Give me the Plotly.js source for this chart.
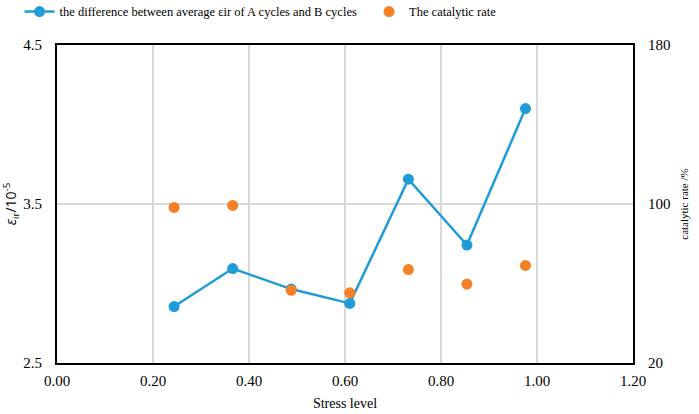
<!DOCTYPE html>
<html>
<head>
<meta charset="utf-8">
<script src="https://cdn.plot.ly/plotly-3.0.1.min.js"></script>
<style>html,body{margin:0;padding:0;background:#fff;}#chart{width:699px;height:414px;}</style>
</head>
<body>
<div id="chart"></div>
<script>
const stressLevel = [0.244, 0.366, 0.488, 0.610, 0.732, 0.854, 0.976];
const diffEir = [2.855, 3.094, 2.965, 2.875, 3.656, 3.242, 4.100];
const catalyticRate = [98.3, 99.3, 56.6, 55.3, 67.0, 59.7, 69.1];
const seriesNames = ["the difference between average εir of A cycles and B cycles", "The catalytic rate"];

const serif = "Liberation Serif, Times New Roman, serif";
const traces = [
  {
    x: stressLevel, y: diffEir, name: seriesNames[0], type: "scatter", mode: "lines+markers",
    line: {color: "#1f9bd7", width: 2.5}, marker: {color: "#1f9bd7", size: 11},
    yaxis: "y", legend: "legend"
  },
  {
    x: stressLevel, y: catalyticRate, name: seriesNames[1], type: "scatter", mode: "markers",
    marker: {color: "#f58025", size: 11},
    yaxis: "y2", legend: "legend2"
  }
];
const legendCommon = {orientation: "h", xanchor: "left", yanchor: "middle", y: 1.104,
  bgcolor: "rgba(0,0,0,0)", font: {family: serif, size: 12.5}};
const layout = {
  width: 699, height: 414,
  margin: {l: 57, r: 66, t: 45, b: 51, autoexpand: false},
  paper_bgcolor: "#fff", plot_bgcolor: "#fff",
  font: {family: serif, size: 14, color: "#000"},
  showlegend: true,
  legend: Object.assign({}, legendCommon, {x: -0.065}),
  legend2: Object.assign({}, legendCommon, {x: 0.5417}),
  xaxis: {range: [0, 1.2], tick0: 0, dtick: 0.2, tickformat: ".2f", showgrid: true, gridcolor: "#d9d9d9", gridwidth: 1.5,
          zeroline: false, showline: true, linecolor: "#000", linewidth: 2, mirror: true,
          ticks: "", tickfont: {family: serif, size: 15}, ticklabelstandoff: 3,
          title: {text: "Stress level", font: {family: serif, size: 14}, standoff: 10}},
  yaxis: {range: [2.5, 4.5], tick0: 2.5, dtick: 1, tickformat: ".1f", showgrid: true, gridcolor: "#d9d9d9", gridwidth: 1.5,
          zeroline: false, showline: true, linecolor: "#000", linewidth: 2, mirror: true,
          ticks: "", tickfont: {family: serif, size: 15}, ticklabelstandoff: 10,
          title: {text: "<i>ε</i><sub>ir</sub>/10<sup>-5</sup>", font: {family: "Open Sans, sans-serif", size: 14}, standoff: 7}},
  yaxis2: {range: [20, 180], tick0: 20, dtick: 80, overlaying: "y", side: "right", showgrid: false, zeroline: false,
           showline: false, ticks: "", tickfont: {family: serif, size: 15}, ticklabelstandoff: 14,
           title: {text: "catalytic rate /%", font: {family: serif, size: 11}, standoff: 10}}
};
Plotly.newPlot("chart", traces, layout, {displayModeBar: false, staticPlot: true});
</script>
</body>
</html>
